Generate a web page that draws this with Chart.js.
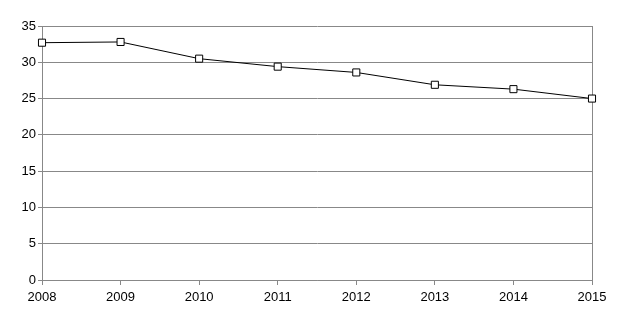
<!DOCTYPE html>
<html>
<head>
<meta charset="utf-8">
<script src="https://cdn.jsdelivr.net/npm/chart.js@4/dist/chart.umd.min.js"></script>
<style>
  html, body { margin: 0; padding: 0; background: #fff; }
  #wrap { width: 625px; height: 326px; }
</style>
</head>
<body>
<div id="wrap"><canvas id="myChart" width="625" height="326"></canvas></div>
<script>
// Yearly values
var years = ["2008", "2009", "2010", "2011", "2012", "2013", "2014", "2015"];
var values = [32.7, 32.8, 30.5, 29.4, 28.6, 26.9, 26.3, 25.0];
var yTicks = [0, 5, 10, 15, 20, 25, 30, 35];

var gridGray = '#888888';
var tickFont = { family: 'Liberation Sans, Arial, sans-serif', size: 13 };

var ctx = document.getElementById("myChart");
var myLineChart = new Chart(ctx, {
  type: 'line',
  data: {
    labels: years,
    datasets: [{
      data: values,
      borderColor: '#000',
      borderWidth: 1,
      tension: 0,
      pointStyle: 'rect',
      pointRadius: 5,
      pointBackgroundColor: '#fff',
      pointBorderColor: '#000',
      pointBorderWidth: 1
    }]
  },
  options: {
    responsive: false,
    animation: false,
    layout: { padding: { left: 0, right: 33, top: 26, bottom: 0 } },
    plugins: { legend: { display: false }, tooltip: { enabled: false } },
    scales: {
      x: {
        offset: false,
        grid: {
          display: true,
          // only the last vertical line closes the plot frame on the right
          color: function (c) {
            return c.index === years.length - 1 ? gridGray : 'rgba(0,0,0,0)';
          },
          tickColor: gridGray,
          tickLength: 5
        },
        border: { color: gridGray },
        ticks: { color: '#000', font: tickFont, padding: 5, maxRotation: 0 },
        afterFit: function (scale) { scale.height = 46; }
      },
      y: {
        min: 0,
        max: 35,
        afterBuildTicks: function (scale) {
          scale.ticks = yTicks.map(function (v) { return { value: v }; });
        },
        grid: { color: gridGray, tickLength: 4 },
        border: { color: gridGray },
        ticks: { color: '#000', font: tickFont, padding: 2 },
        afterFit: function (scale) { scale.width = 42; }
      }
    }
  }
});
</script>
</body>
</html>
